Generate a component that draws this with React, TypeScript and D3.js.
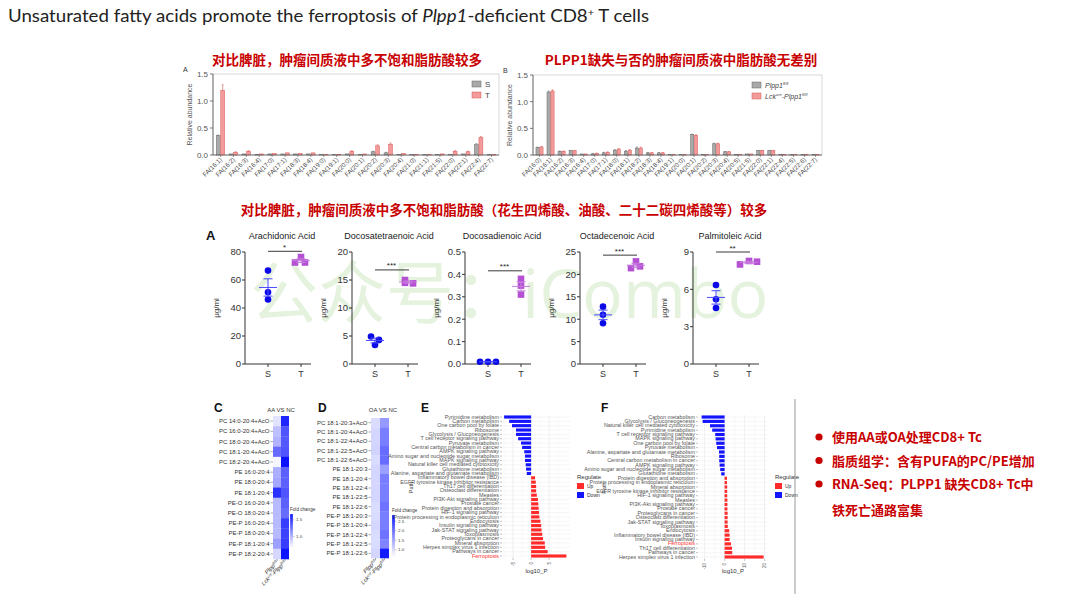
import React from 'react';
import * as d3 from 'd3';

// ---------- DATA ----------
const faA = ['FA(16:1)','FA(16:2)','FA(16:3)','FA(16:4)','FA(17:0)','FA(17:1)','FA(18:3)','FA(18:4)','FA(19:0)','FA(19:1)','FA(20:0)','FA(20:1)','FA(20:2)','FA(20:3)','FA(20:4)','FA(21:0)','FA(21:1)','FA(21:5)','FA(22:0)','FA(22:1)','FA(22:4)','FA(22:7)'];
const faA_S = [0.36,0.02,0.02,0.01,0.02,0.02,0.02,0.02,0.005,0.005,0.02,0.01,0.06,0.04,0.01,0.005,0.005,0.01,0.01,0.02,0.19,0.005];
const faA_T = [1.2,0.05,0.07,0.02,0.03,0.04,0.03,0.04,0.005,0.01,0.07,0.02,0.17,0.2,0.03,0.005,0.005,0.02,0.07,0.06,0.32,0.01];
const faA_Serr = [0.01,0,0,0,0,0,0,0,0,0,0,0,0.01,0.01,0,0,0,0,0,0,0.02,0];
const faA_Terr = [0.1,0.01,0.01,0,0,0,0,0,0,0,0.01,0,0.02,0.02,0,0,0,0,0.01,0.01,0.02,0];

const faB = ['FA(16:0)','FA(16:1)','FA(16:2)','FA(16:3)','FA(16:4)','FA(17:0)','FA(17:1)','FA(18:0)','FA(18:1)','FA(18:2)','FA(18:3)','FA(18:4)','FA(19:1)','FA(20:0)','FA(20:1)','FA(20:2)','FA(20:3)','FA(20:4)','FA(20:5)','FA(21:5)','FA(22:0)','FA(22:1)','FA(22:4)','FA(22:5)','FA(22:6)','FA(22:7)'];
const faB_fl = [0.14,1.18,0.07,0.08,0.02,0.02,0.04,0.09,0.07,0.13,0.04,0.04,0.01,0.005,0.38,0.005,0.21,0.06,0.01,0.02,0.08,0.08,0.01,0.005,0.005,0.005];
const faB_ko = [0.15,1.2,0.07,0.08,0.02,0.03,0.05,0.11,0.09,0.13,0.04,0.04,0.01,0.005,0.37,0.005,0.21,0.06,0.01,0.02,0.08,0.08,0.01,0.005,0.005,0.005];
const faB_err = [0.01,0.02,0.005,0.005,0,0.005,0.01,0.01,0.015,0.02,0.005,0.005,0,0,0.01,0,0.01,0.005,0,0,0.005,0.005,0,0,0,0];

const acidNames = ['Arachidonic Acid','Docosatetraenoic Acid','Docosadienoic Acid','Octadecenoic Acid','Palmitoleic Acid'];
const acidS = [[66.7,51.2,46.1],[4.9,4.3,3.4],[0.01,0.01,0.01],[12.8,11.0,9.1],[6.35,5.2,4.5]];
const acidT = [[72.5,76.4,72.5],[15.0,14.4,14.5],[0.38,0.35,0.31],[21.4,22.9,21.8],[8.0,8.28,8.22]];
const acidMax = [80,20,0.5,25,9];
const acidStep = [20,5,0.1,5,3];
const acidSig = ['*','***','***','***','**'];
const acidSigY = [80.5,16.8,0.416,24.3,9.0];

const hmCRows = ['PC 14:0-20:4+AcO','PC 16:0-20:4+AcO','PC 18:0-20:4+AcO','PC 18:1-20:4+AcO','PC 18:2-20:4+AcO','PE 16:0-20:4','PE 18:0-20:4','PE 18:1-20:4','PE-O 16:0-20:4','PE-O 18:0-20:4','PE-P 16:0-20:4','PE-P 18:0-20:4','PE-P 18:1-20:4','PE-P 18:2-20:4'];
const hmCfl = [0.8,0.95,1.0,1.3,0.72,1.02,1.05,1.55,0.97,0.97,0.97,0.97,1.08,0.85];
const hmCko = [1.6,1.4,1.38,1.4,1.68,1.35,1.35,1.4,1.35,1.3,1.5,1.48,1.5,1.7];
const hmCticks = [1.0,1.5];

const hmDRows = ['PC 18:1-20:3+AcO','PC 18:1-20:4+AcO','PC 18:1-22:4+AcO','PC 18:1-22:5+AcO','PC 18:1-22:6+AcO','PE 18:1-20:3','PE 18:1-20:4','PE 18:1-22:4','PE 18:1-22:5','PE 18:1-22:6','PE-P 18:1-20:3','PE-P 18:1-20:4','PE-P 18:1-22:4','PE-P 18:1-22:5','PE-P 18:1-22:6'];
const hmDfl = [1.0,1.05,1.05,1.08,1.0,1.05,1.05,1.05,1.05,1.0,1.0,1.05,1.0,1.0,1.05];
const hmDko = [1.6,1.85,1.85,2.0,2.0,1.55,1.85,1.85,1.85,1.95,1.85,1.85,1.95,1.8,2.75];
const hmDticks = [1.0,1.5,2.0,2.5];

const pathE = ['Pyrimidine metabolism','Carbon metabolism','One carbon pool by folate','Ribosome','Glycolysis / Gluconeogenesis','T cell receptor signaling pathway','Pyruvate metabolism','Central carbon metabolism in cancer','AMPK signaling pathway','Amino sugar and nucleotide sugar metabolism','MAPK signaling pathway','Natural killer cell mediated cytotoxicity','Glutathione metabolism','Alanine, aspartate and glutamate metabolism','Inflammatory bowel disease (IBD)','EGFR tyrosine kinase inhibitor resistance','Th17 cell differentiation','Osteoclast differentiation','Measles','PI3K-Akt signaling pathway','Prostate cancer','Protein digestion and absorption','HIF-1 signaling pathway','Protein processing in endoplasmic reticulum','Endocytosis','Insulin signaling pathway','Jak-STAT signaling pathway','Toxoplasmosis','Proteoglycans in cancer','Mineral absorption','Herpes simplex virus 1 infection','Pathways in cancer','Ferroptosis'];
const valE = [-7.5,-6.1,-5.3,-4.2,-4.2,-3.6,-2.8,-2.5,-1.9,-1.7,-1.7,-1.5,-1.4,-1.2,1.1,1.3,1.4,1.4,1.6,1.9,2.0,2.1,2.2,2.3,2.6,2.8,2.9,3.1,3.3,3.8,3.9,4.6,9.8];
const ticksE = [-5,0,5];

const pathF = ['Carbon metabolism','Glycolysis / Gluconeogenesis','Natural killer cell mediated cytotoxicity','Pyrimidine metabolism','T cell receptor signaling pathway','MAPK signaling pathway','One carbon pool by folate','Pyruvate metabolism','Alanine, aspartate and glutamate metabolism','Ribosome','Central carbon metabolism in cancer','AMPK signaling pathway','Amino sugar and nucleotide sugar metabolism','Glutathione metabolism','Protein digestion and absorption','Protein processing in endoplasmic reticulum','Mineral absorption','EGFR tyrosine kinase inhibitor resistance','HIF-1 signaling pathway','Measles','PI3K-Akt signaling pathway','Prostate cancer','Proteoglycans in cancer','Osteoclast differentiation','Jak-STAT signaling pathway','Toxoplasmosis','Endocytosis','Inflammatory bowel disease (IBD)','Insulin signaling pathway','Ferroptosis','Th17 cell differentiation','Pathways in cancer','Herpes simplex virus 1 infection'];
const valF = [-11.5,-11,-7.3,-6.2,-4.7,-4.5,-4.2,-3.8,-2.8,-2.7,-2.7,-2.5,-2.2,-1.7,1.2,1.2,1.3,1.3,1.3,1.4,1.4,1.4,1.5,1.5,1.5,1.6,2.3,2.5,2.5,3.2,3.7,3.8,19.5];
const ticksF = [-10,0,10,20];

const bullets = ['使用AA或OA处理CD8+ Tc','脂质组学：含有PUFA的PC/PE增加','RNA-Seq：PLPP1 缺失CD8+ Tc中'];
const bulletCont = '铁死亡通路富集';

// ---------- STYLE ----------
const SANS = "'Liberation Sans', Arial, sans-serif";
const CJK = "'Noto Sans CJK SC', sans-serif";
const RED = '#c80000';

function BarChart(props: any) {
  const { cats, a, b, aErr, bErr, left, right, top, bottom, letter, legend, legendX, legendY } = props;
  const y = d3.scaleLinear().domain([0, 1.5]).range([bottom, top]);
  const x = d3.scaleBand<string>().domain(cats).range([left + 1, right - 1]).paddingInner(0.3).paddingOuter(0.15);
  const bw = x.bandwidth() / 2;
  const ticks = [0, 0.5, 1.0, 1.5];
  const fills = ['#a9a9a9', '#f39a9a'];
  const strokes = ['#6a6a6a', '#d85c5c'];
  return (
    <g>
      <rect x={left} y={top} width={right - left} height={bottom - top} fill="none" stroke="#cfcfcf" strokeWidth={0.8} />
      <text x={left - 30} y={top - 2} fontSize={7} fontFamily={SANS} fill="#333">{letter}</text>
      {cats.map((c: string, i: number) => {
        const x0 = x(c)!;
        return (
          <g key={c}>
            {[a[i], b[i]].map((v: number, k: number) => {
              const err = k === 0 ? aErr[i] : bErr[i];
              const bx = x0 + k * bw;
              return (
                <g key={k}>
                  <rect x={bx + 0.3} y={y(v)} width={bw - 0.6} height={bottom - y(v)} fill={fills[k]} stroke={strokes[k]} strokeWidth={0.5} />
                  {err > 0 && <line x1={bx + bw / 2} x2={bx + bw / 2} y1={y(v + err)} y2={y(v)} stroke={strokes[k]} strokeWidth={0.6} />}
                  {err > 0 && <line x1={bx + bw / 2 - 1} x2={bx + bw / 2 + 1} y1={y(v + err)} y2={y(v + err)} stroke={strokes[k]} strokeWidth={0.6} />}
                </g>
              );
            })}
            <line x1={x0 + bw} x2={x0 + bw} y1={bottom} y2={bottom + 2} stroke="#555" strokeWidth={0.6} />
            <text transform={`translate(${x0 + bw + 2},${bottom + 5}) rotate(-45)`} textAnchor="end" fontSize={6.3} fontFamily={SANS} fill="#444">{c}</text>
          </g>
        );
      })}
      <line x1={left} x2={left} y1={top} y2={bottom} stroke="#555" strokeWidth={0.8} />
      <line x1={left} x2={right} y1={bottom} y2={bottom} stroke="#555" strokeWidth={0.8} />
      {ticks.map(t => (
        <g key={t}>
          <line x1={left - 3} x2={left} y1={y(t)} y2={y(t)} stroke="#555" strokeWidth={0.8} />
          <text x={left - 5} y={y(t) + 3} textAnchor="end" fontSize={8} fontFamily={SANS} fill="#555">{d3.format('.1f')(t)}</text>
        </g>
      ))}
      <text transform={`translate(${left - 21},${(top + bottom) / 2}) rotate(-90)`} textAnchor="middle" fontSize={7} fontFamily={SANS} fill="#555">Relative abundance</text>
      {legend.map((l: any, k: number) => (
        <g key={k}>
          <rect x={legendX} y={legendY + k * 11 - 3} width={9} height={6} fill={fills[k]} stroke={strokes[k]} strokeWidth={0.5} />
          <text x={legendX + 13} y={legendY + k * 11 + 3} fontSize={l.size} fontFamily={SANS} fill="#444" fontStyle={l.italic ? 'italic' : 'normal'}>
            {l.parts.map((p: any, j: number) => (
              <tspan key={j} fontSize={p.sup ? l.size * 0.6 : l.size} dy={p.sup ? -3 : (j > 0 && l.parts[j - 1].sup ? 3 : 0)}>{p.t}</tspan>
            ))}
          </text>
        </g>
      ))}
    </g>
  );
}

function DotPlot(props: any) {
  const { ax, name, s, t, max, step, sig, sigY, sj, tj } = props;
  const top = 252, bottom = 364;
  const y = d3.scaleLinear().domain([0, max]).range([bottom, top]);
  const xs = ax + 23, xt = ax + 56, xEnd = ax + 66;
  const ticks = d3.range(0, max + step / 2, step);
  const fmt = max < 1 ? d3.format('.1f') : d3.format('d');
  const stats = (arr: number[]) => {
    const m = d3.mean(arr)!;
    const sem = (d3.deviation(arr) || 0) / Math.sqrt(arr.length);
    return [m, sem];
  };
  const groups = [
    { cx: xs, vals: s, jit: sj, col: '#0a0ae6', line: '#4a4aff', shape: 'c' },
    { cx: xt, vals: t, jit: tj, col: '#b450d2', line: '#c87de0', shape: 's' },
  ];
  return (
    <g>
      <text x={ax + 37} y={239} textAnchor="middle" fontSize={9} fontFamily={SANS} fill="#222">{name}</text>
      <line x1={ax} x2={ax} y1={top} y2={bottom} stroke="#333" strokeWidth={1} />
      <line x1={ax} x2={xEnd} y1={bottom} y2={bottom} stroke="#333" strokeWidth={1} />
      {ticks.map(v => (
        <g key={v}>
          <line x1={ax - 3} x2={ax} y1={y(v)} y2={y(v)} stroke="#333" strokeWidth={1} />
          <text x={ax - 4} y={y(v) + 3.3} textAnchor="end" fontSize={9.5} fontFamily={SANS} fill="#333">{fmt(v)}</text>
        </g>
      ))}
      {[['S', xs], ['T', xt]].map(([l, cx]: any) => (
        <g key={l}>
          <line x1={cx} x2={cx} y1={bottom} y2={bottom + 3} stroke="#333" strokeWidth={1} />
          <text x={cx} y={bottom + 13} textAnchor="middle" fontSize={9} fontFamily={SANS} fill="#333">{l}</text>
        </g>
      ))}
      <text transform={`translate(${ax - 26},${(top + bottom) / 2}) rotate(-90)`} textAnchor="middle" fontSize={8} fontFamily={SANS} fill="#333">μg/ml</text>
      <line x1={xs} x2={xt + 1} y1={y(sigY)} y2={y(sigY)} stroke="#222" strokeWidth={0.9} />
      <text x={(xs + xt) / 2} y={y(sigY) - 1.5} textAnchor="middle" fontSize={8} fontFamily={SANS} fill="#222">{sig}</text>
      {groups.map((g, gi) => {
        const [m, sem] = stats(g.vals);
        return (
          <g key={gi}>
            {g.vals.map((v: number, i: number) => g.shape === 'c'
              ? <circle key={i} cx={g.cx + g.jit[i]} cy={y(v)} r={3.3} fill={g.col} />
              : <rect key={i} x={g.cx + g.jit[i] - 3.3} y={y(v) - 3.3} width={6.6} height={6.6} fill={g.col} />)}
            <line x1={g.cx - 9} x2={g.cx + 9} y1={y(m)} y2={y(m)} stroke={g.line} strokeWidth={1} />
            <line x1={g.cx} x2={g.cx} y1={y(m - sem)} y2={y(m + sem)} stroke={g.line} strokeWidth={1} />
            <line x1={g.cx - 4.5} x2={g.cx + 4.5} y1={y(m - sem)} y2={y(m - sem)} stroke={g.line} strokeWidth={1} />
            <line x1={g.cx - 4.5} x2={g.cx + 4.5} y1={y(m + sem)} y2={y(m + sem)} stroke={g.line} strokeWidth={1} />
          </g>
        );
      })}
    </g>
  );
}

function Heatmap(props: any) {
  const { rows, c1, c2, left, top, bottom, colW, domain, ticks, title, titleX, letter, letterX, cbX, cbTop, cbBottom, id } = props;
  const yb = d3.scaleBand<string>().domain(rows).range([top, bottom]);
  const color = d3.scaleLinear<string>().domain(domain).range(['#ffffff', '#0a12ff']).clamp(true);
  const cb = d3.scaleLinear().domain(domain).range([cbBottom, cbTop]);
  const fs = 6;
  return (
    <g>
      <text x={letterX} y={412} fontSize={12} fontWeight="bold" fontFamily={SANS} fill="#111">{letter}</text>
      <text x={titleX} y={412} textAnchor="middle" fontSize={6} fontFamily={SANS} fill="#333">{title}</text>
      {rows.map((r: string, i: number) => (
        <g key={r}>
          <rect x={left} y={yb(r)!} width={colW} height={yb.bandwidth() + 0.3} fill={color(c1[i])} />
          <rect x={left + colW} y={yb(r)!} width={colW} height={yb.bandwidth() + 0.3} fill={color(c2[i])} />
          <line x1={left - 2.5} x2={left} y1={yb(r)! + yb.bandwidth() / 2} y2={yb(r)! + yb.bandwidth() / 2} stroke="#555" strokeWidth={0.5} />
          <text x={left - 3.5} y={yb(r)! + yb.bandwidth() / 2 + 2} textAnchor="end" fontSize={fs} fontFamily={SANS} fill="#333">{r}</text>
        </g>
      ))}
      {[0, 1].map(k => {
        const cx = left + colW * k + colW / 2;
        return (
          <g key={k}>
            <line x1={cx} x2={cx} y1={bottom} y2={bottom + 2} stroke="#555" strokeWidth={0.5} />
            <text transform={`translate(${cx + 1.5},${bottom + 4}) rotate(-45)`} textAnchor="end" fontSize={5.8} fontFamily={SANS} fill="#333" fontStyle="italic">
              {k === 0
                ? [<tspan key="a" fill="#333">Plpp</tspan>, <tspan key="b" fill="#333" fontSize={3.6} dy={-2}>fl/fl</tspan>]
                : [<tspan key="a" fill="#333">Lck</tspan>, <tspan key="b" fill="#333" fontSize={3.6} dy={-2}>cre</tspan>, <tspan key="c" fill="#333" dy={2}>-Plpp</tspan>, <tspan key="d" fill="#333" fontSize={3.6} dy={-2}>fl/fl</tspan>]}
            </text>
          </g>
        );
      })}
      <defs>
        <linearGradient id={id} x1="0" x2="0" y1="1" y2="0">
          <stop offset="0%" stopColor="#ffffff" />
          <stop offset="100%" stopColor="#0a12ff" />
        </linearGradient>
      </defs>
      <text x={cbX} y={cbTop - 3} fontSize={4.6} fontFamily={SANS} fill="#333">Fold change</text>
      <rect x={cbX} y={cbTop} width={3} height={cbBottom - cbTop} fill={`url(#${id})`} stroke="#ddd" strokeWidth={0.3} />
      {ticks.map((t: number) => (
        <g key={t}>
          <line x1={cbX + 3} x2={cbX + 4.5} y1={cb(t)} y2={cb(t)} stroke="#777" strokeWidth={0.4} />
          <text x={cbX + 6} y={cb(t) + 1.5} fontSize={4.4} fontFamily={SANS} fill="#444">{d3.format('.1f')(t)}</text>
        </g>
      ))}
    </g>
  );
}

function Enrich(props: any) {
  const { names, vals, domain, range, top, bottom, ticks, letter, letterX, legendX, pathX } = props;
  const yb = d3.scaleBand<string>().domain(names).range([top, bottom]).paddingInner(0.28).paddingOuter(0.1);
  const x = d3.scaleLinear().domain(domain).range(range);
  const lr = range[0] - 3;
  const minor = ticks.slice(0, -1).map((t: number, i: number) => (t + ticks[i + 1]) / 2)
    .concat([ticks[0] - (ticks[1] - ticks[0]) / 2, ticks[ticks.length - 1] + (ticks[1] - ticks[0]) / 2])
    .filter((v: number) => v >= domain[0] && v <= domain[1]);
  return (
    <g>
      <text x={letterX} y={412} fontSize={12} fontWeight="bold" fontFamily={SANS} fill="#111">{letter}</text>
      {minor.map((t: number) => <line key={'m' + t} x1={x(t)} x2={x(t)} y1={top} y2={bottom} stroke="#f2f2f2" strokeWidth={0.5} />)}
      {ticks.map((t: number) => <line key={'g' + t} x1={x(t)} x2={x(t)} y1={top} y2={bottom} stroke="#e6e6e6" strokeWidth={0.6} />)}
      {names.map((n: string) => <line key={'h' + n} x1={range[0]} x2={range[1]} y1={yb(n)! + yb.bandwidth() / 2} y2={yb(n)! + yb.bandwidth() / 2} stroke="#ececec" strokeWidth={0.5} />)}
      {names.map((n: string, i: number) => {
        const v = vals[i];
        const cy = yb(n)! + yb.bandwidth() / 2;
        return (
          <g key={n}>
            <rect x={x(Math.min(0, v))} y={yb(n)!} width={Math.abs(x(v) - x(0))} height={yb.bandwidth()} fill={v < 0 ? '#1414ff' : '#ff2b2b'} />
            <line x1={lr} x2={lr + 2} y1={cy} y2={cy} stroke="#666" strokeWidth={0.4} />
            <text x={lr - 1} y={cy + 1.6} textAnchor="end" fontSize={5.4} fontFamily={SANS} fill={n === 'Ferroptosis' ? '#ff3030' : '#555'}>{n}</text>
          </g>
        );
      })}
      {ticks.map((t: number) => (
        <g key={'t' + t}>
          <line x1={x(t)} x2={x(t)} y1={bottom} y2={bottom + 2} stroke="#666" strokeWidth={0.4} />
          <text transform={`translate(${x(t) + 1.5},${bottom + 4}) rotate(-90)`} textAnchor="end" fontSize={4.5} fontFamily={SANS} fill="#555">{t}</text>
        </g>
      ))}
      <text x={(range[0] + range[1]) / 2} y={573} textAnchor="middle" fontSize={6} fontFamily={SANS} fill="#333">log10_P</text>
      <text transform={`translate(${pathX},${(top + bottom) / 2 + 1}) rotate(-90)`} textAnchor="middle" fontSize={5.5} fontFamily={SANS} fill="#333">Path</text>
      <text x={legendX} y={479} fontSize={6} fontFamily={SANS} fill="#333">Regulate</text>
      <rect x={legendX} y={483} width={7} height={6} fill="#ff2b2b" />
      <rect x={legendX} y={492} width={7} height={6} fill="#1414ff" />
      <text x={legendX + 10} y={488} fontSize={5} fontFamily={SANS} fill="#333">Up</text>
      <text x={legendX + 10} y={497} fontSize={5} fontFamily={SANS} fill="#333">Down</text>
    </g>
  );
}

export default function App() {
  const axes = [245, 352, 465, 580, 693];
  const sJit = [[0, 0, 0], [-4, 4, 0], [-8, 0, 8], [0, 0, 0], [0, 0, 0]];
  const tJit = [[-6, 0, 4], [-3, 5, -3], [0, 0, 0], [-5, 0, 4], [-9, 0, 8]];
  return (
    <svg width={1080} height={608} viewBox="0 0 1080 608" style={{ position: 'absolute', left: 0, top: 0, background: '#fff' }}>
      <rect x={0} y={0} width={1080} height={608} fill="#fff" />
      <text x={8} y={22} fontSize={17} fontFamily="Lato, 'Open Sans', sans-serif" fill="#222" textLength={641} lengthAdjust="spacingAndGlyphs">
        Unsaturated fatty acids promote the ferroptosis of <tspan fontStyle="italic">Plpp1</tspan>-deficient CD8<tspan fontSize={10} dy={-6}>+</tspan><tspan dy={6}> T cells</tspan>
      </text>

      <text x={347} y={65} textAnchor="middle" fontSize={13.5} fontWeight="bold" fontFamily={CJK} fill={RED}>对比脾脏，肿瘤间质液中多不饱和脂肪酸较多</text>
      <text x={681} y={65} textAnchor="middle" fontSize={13.5} fontWeight="bold" fontFamily={CJK} fill={RED}>PLPP1缺失与否的肿瘤间质液中脂肪酸无差别</text>

      <BarChart cats={faA} a={faA_S} b={faA_T} aErr={faA_Serr} bErr={faA_Terr} left={213} right={499} top={74} bottom={155} letter="A"
        legend={[{ parts: [{ t: 'S' }], size: 8 }, { parts: [{ t: 'T' }], size: 8 }]} legendX={472} legendY={84} />
      <BarChart cats={faB} a={faB_fl} b={faB_ko} aErr={faB_err} bErr={faB_err} left={533} right={822} top={75} bottom={155} letter="B"
        legend={[{ parts: [{ t: 'Plpp1' }, { t: 'fl/fl', sup: true }], size: 7, italic: true }, { parts: [{ t: 'Lck' }, { t: 'cre', sup: true }, { t: '-Plpp1' }, { t: 'fl/fl', sup: true }], size: 7, italic: true }]}
        legendX={752} legendY={85} />

      <text x={504} y={215} textAnchor="middle" fontSize={13.5} fontWeight="bold" fontFamily={CJK} fill={RED}>对比脾脏，肿瘤间质液中多不饱和脂肪酸（花生四烯酸、油酸、二十二碳四烯酸等）较多</text>

      <text x={250} y={318} fontSize={68} fontFamily={CJK} fill="#e4f2de">公众号：<tspan fontFamily="'Open Sans', sans-serif">iCombo</tspan></text>

      <text x={206} y={240} fontSize={13} fontWeight="bold" fontFamily={SANS} fill="#111">A</text>
      {acidNames.map((n, i) => (
        <DotPlot key={n} ax={axes[i]} name={n} s={acidS[i]} t={acidT[i]} max={acidMax[i]} step={acidStep[i]} sig={acidSig[i]} sigY={acidSigY[i]} sj={sJit[i]} tj={tJit[i]} />
      ))}

      <Heatmap id="gc" rows={hmCRows} c1={hmCfl} c2={hmCko} left={273} top={416} bottom={559} colW={8} domain={[0.68, 1.68]} ticks={hmCticks}
        title="AA VS NC" titleX={281} letter="C" letterX={214} cbX={290} cbTop={514} cbBottom={547} />
      <Heatmap id="gd" rows={hmDRows} c1={hmDfl} c2={hmDko} left={371} top={418} bottom={558} colW={9} domain={[0.68, 2.82]} ticks={hmDticks}
        title="OA VS NC" titleX={383} letter="D" letterX={318} cbX={392} cbTop={515} cbBottom={556} />

      <Enrich names={pathE} vals={valE} domain={[-7.8, 10.8]} range={[503, 570]} top={415} bottom={558} ticks={ticksE}
        letter="E" letterX={421} legendX={577} pathX={413} />
      <Enrich names={pathF} vals={valF} domain={[-12.8, 21.2]} range={[699, 767]} top={415} bottom={559} ticks={ticksF}
        letter="F" letterX={601} legendX={775} pathX={606} />

      <line x1={795} x2={795} y1={399} y2={594} stroke="#9a9a9a" strokeWidth={1} />

      {bullets.map((b, i) => (
        <g key={b}>
          <circle cx={819} cy={437 + i * 23.5} r={3.6} fill={RED} />
          <text x={832} y={442 + i * 23.5} fontSize={13} fontWeight="bold" fontFamily={CJK} fill={RED}>{b}</text>
        </g>
      ))}
      <text x={832} y={515} fontSize={13} fontWeight="bold" fontFamily={CJK} fill={RED}>{bulletCont}</text>
    </svg>
  );
}
